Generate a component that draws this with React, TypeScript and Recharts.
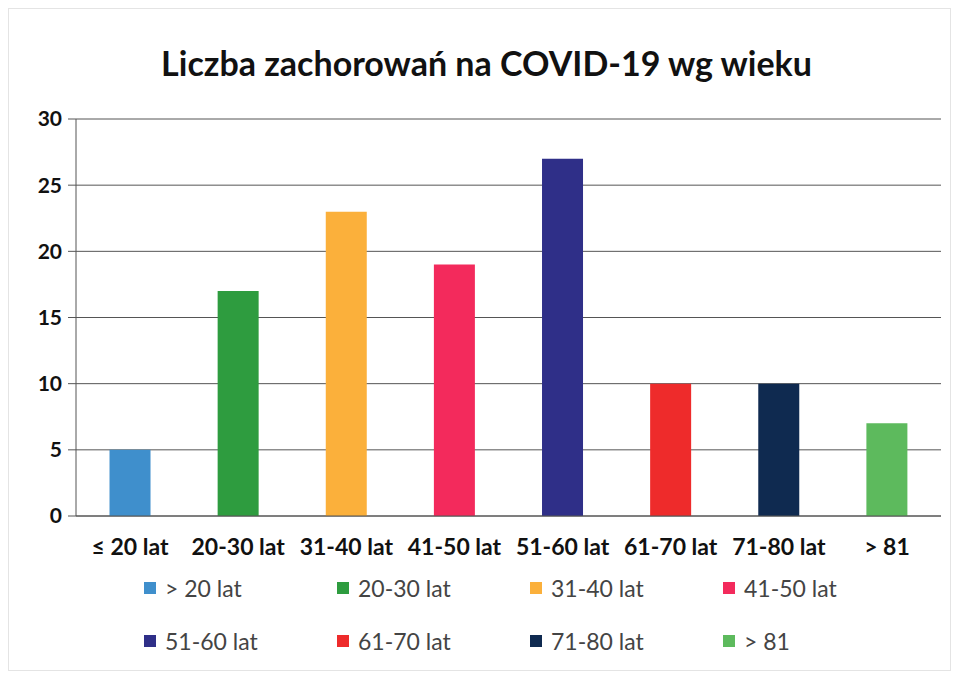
import React from 'react';
import { BarChart, Bar, Cell, XAxis, YAxis, CartesianGrid } from 'recharts';

const categories = ['≤ 20 lat', '20-30 lat', '31-40 lat', '41-50 lat', '51-60 lat', '61-70 lat', '71-80 lat', '> 81'];
const legendLabels = ['> 20 lat', '20-30 lat', '31-40 lat', '41-50 lat', '51-60 lat', '61-70 lat', '71-80 lat', '> 81'];
const cases = [5, 17, 23, 19, 27, 10, 10, 7];
const yTicks = [0, 5, 10, 15, 20, 25, 30];

const COLORS = [
  '#3f8fcc', // blue
  '#2e9c3f', // green
  '#fbb03b', // orange
  '#f32a5c', // pink-red
  '#2f2f88', // indigo
  '#ee2b2b', // red
  '#0f2a50', // navy
  '#5dba5d', // light green
];

const data = categories.map((name, i) => ({ name, value: cases[i] }));

const FONT = 'Lato, "Open Sans", sans-serif';

const LegendBox = () => (
  <div style={{ position: 'absolute', left: 0, top: 565, width: 943, height: 100, fontFamily: FONT }}>
    {legendLabels.map((label, i) => (
      <div
        key={label}
        style={{
          position: 'absolute',
          left: 135 + (i % 4) * 193,
          top: Math.floor(i / 4) * 53,
          display: 'flex',
          alignItems: 'center',
          fontSize: 23,
          lineHeight: '28px',
          color: '#444',
        }}
      >
        <span style={{ width: 12, height: 12, background: COLORS[i], marginRight: 9, display: 'inline-block' }} />
        {label}
      </div>
    ))}
  </div>
);

export default function App() {
  return (
    <div
      style={{
        position: 'relative',
        width: 943,
        height: 663,
        background: '#fff',
        border: '1px solid #e4e4e4',
        boxSizing: 'border-box',
      }}
    >
      <div
        style={{
          position: 'absolute',
          top: 33,
          left: 0,
          width: 955,
          textAlign: 'center',
          fontFamily: FONT,
          fontWeight: 700,
          fontSize: 34,
          color: '#111',
        }}
      >
        Liczba zachorowań na COVID-19 wg wieku
      </div>
      <BarChart
        width={943}
        height={663}
        data={data}
        margin={{ top: 110, right: 11, bottom: 126, left: 0 }}
        barCategoryGap="31%"
        style={{ position: 'absolute', top: 0, left: 0 }}
      >
        <CartesianGrid vertical={false} stroke="#555" strokeWidth={1} />
        <XAxis
          dataKey="name"
          height={30}
          axisLine={{ stroke: '#555' }}
          tickLine={false}
          tickMargin={17}
          tick={{ fill: '#111', fontSize: 23, fontWeight: 700, fontFamily: FONT }}
          interval={0}
        />
        <YAxis
          width={67}
          domain={[0, 30]}
          ticks={yTicks}
          axisLine={{ stroke: '#555' }}
          tickLine={{ stroke: '#555' }}
          tickSize={8}
          tickMargin={6}
          tick={{ fill: '#111', fontSize: 21, fontWeight: 700, fontFamily: FONT }}
        />
        <Bar dataKey="value" isAnimationActive={false}>
          {data.map((entry, i) => (
            <Cell key={entry.name} fill={COLORS[i]} />
          ))}
        </Bar>
      </BarChart>
      <LegendBox />
    </div>
  );
}
